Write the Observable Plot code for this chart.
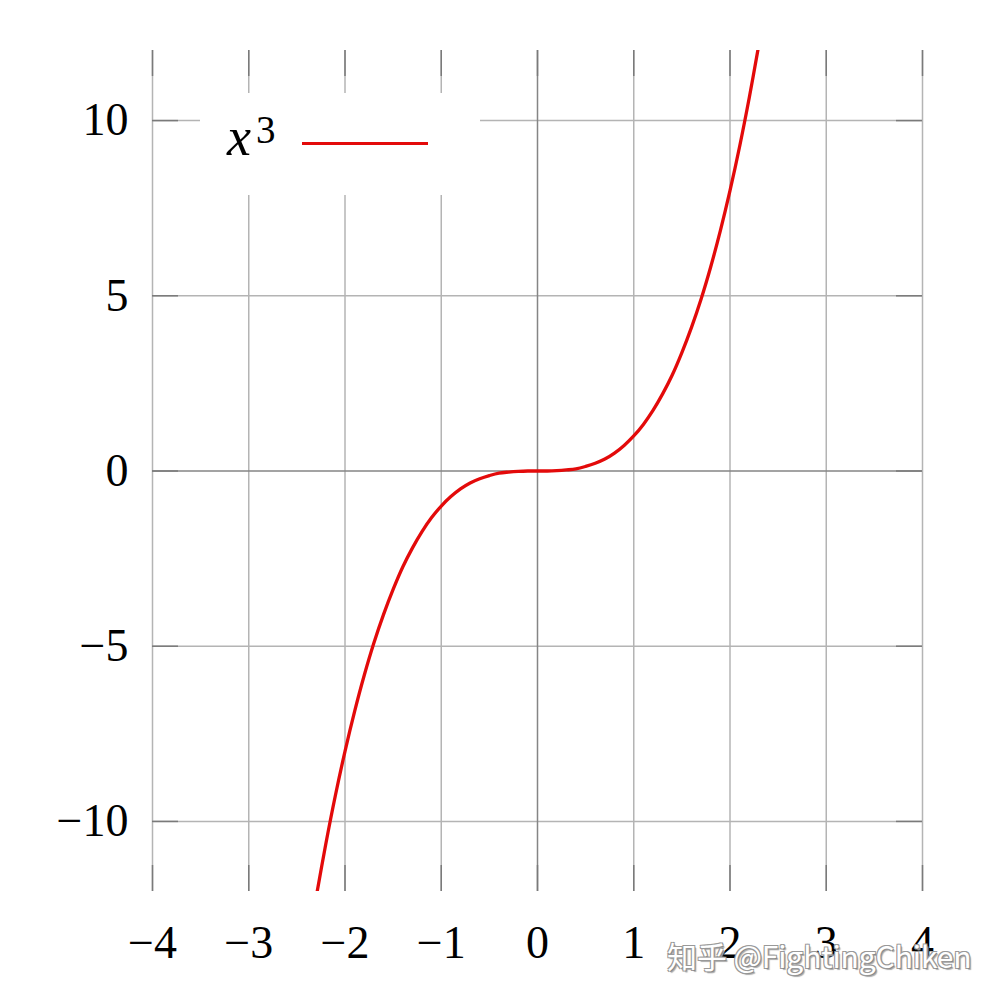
<!DOCTYPE html>
<html>
<head>
<meta charset="utf-8">
<script src="https://cdn.jsdelivr.net/npm/d3@7"></script>
<script src="https://cdn.jsdelivr.net/npm/@observablehq/plot@0.6"></script>
<style>
  html, body { margin: 0; padding: 0; background: #fff; }
  #wrap { position: relative; width: 1000px; height: 1000px; }
  #legend { position: absolute; left: 200px; top: 93px; width: 280px; height: 102px; background: #fff; }
  #legend .x { position: absolute; left: 27px; top: 17px; font-family: "Liberation Serif", serif; font-style: italic; font-size: 54px; line-height: 1; }
  #legend .sup { position: absolute; left: 56px; top: 17px; font-family: "Liberation Serif", serif; font-size: 39px; line-height: 1; }
  #legend .line { position: absolute; left: 102px; top: 49px; width: 126px; height: 3px; background: #e30a0a; }
  #wm { position: absolute; left: 667px; top: 933px; font-family: "Noto Sans CJK SC", "Noto Sans", sans-serif; font-size: 30px; color: #fff; letter-spacing: -0.1px; white-space: nowrap;
        text-shadow: -1px -1px 0 #999, 1px -1px 0 #999, -1px 1px 0 #999, 1px 1px 0 #888, 2px 2px 1px #aaa; }
</style>
</head>
<body>
<div id="wrap"></div>
<script>
const xTicks = [-4, -3, -2, -1, 0, 1, 2, 3, 4];
const yTicks = [-10, -5, 0, 5, 10];
const xDomain = [-4, 4];
const yDomain = [-12, 12];
const seriesName = "x";
const seriesPower = "3";

const curveX = [-2.3, -2.2, -2.1, -2.0, -1.9, -1.8, -1.7, -1.6, -1.5, -1.4, -1.3, -1.2, -1.1, -1.0, -0.9, -0.8, -0.7, -0.6, -0.5, -0.4, -0.3, -0.2, -0.1, 0,
                0.1, 0.2, 0.3, 0.4, 0.5, 0.6, 0.7, 0.8, 0.9, 1.0, 1.1, 1.2, 1.3, 1.4, 1.5, 1.6, 1.7, 1.8, 1.9, 2.0, 2.1, 2.2, 2.3];
const curveY = [-12.17, -10.65, -9.26, -8.0, -6.86, -5.83, -4.91, -4.10, -3.38, -2.74, -2.20, -1.73, -1.33, -1.0, -0.73, -0.51, -0.34, -0.22, -0.13, -0.06, -0.03, -0.01, 0, 0,
                0, 0.01, 0.03, 0.06, 0.13, 0.22, 0.34, 0.51, 0.73, 1.0, 1.33, 1.73, 2.20, 2.74, 3.38, 4.10, 4.91, 5.83, 6.86, 8.0, 9.26, 10.65, 12.17];

const curve = curveX.map((x, i) => ({x, y: curveY[i]}));
const fmt = d => d < 0 ? "\u2212" + Math.abs(d) : String(d);

const gridColor = "#b4b4b4";
const axisColor = "#858585";
const tickColor = "#7a7a7a";

const plot = Plot.plot({
  width: 1000,
  height: 1000,
  marginLeft: 152,
  marginRight: 78,
  marginTop: 50,
  marginBottom: 109,
  style: { fontFamily: "'Liberation Serif', 'Times New Roman', serif", fontSize: "46px", color: "#000", background: "#fff" },
  x: { domain: xDomain, ticks: xTicks, tickFormat: fmt, tickSize: 0, tickPadding: 34, label: null },
  y: { domain: yDomain, ticks: yTicks, tickFormat: fmt, tickSize: 0, tickPadding: 24, label: null },
  marks: [
    // grid
    Plot.ruleX(xTicks.filter(d => d !== 0), { x: d => d, y1: yDomain[0], y2: yDomain[1], stroke: gridColor, strokeWidth: 1.5 }),
    Plot.ruleY(yTicks.filter(d => d !== 0), { y: d => d, x1: xDomain[0], x2: xDomain[1], stroke: gridColor, strokeWidth: 1.5 }),
    // zero axes
    Plot.ruleX([0], { x: d => d, y1: yDomain[0], y2: yDomain[1], stroke: axisColor, strokeWidth: 1.5 }),
    Plot.ruleY([0], { y: d => d, x1: xDomain[0], x2: xDomain[1], stroke: axisColor, strokeWidth: 1.5 }),
    // inner tick marks: bottom, top, left, right
    Plot.ruleX(xTicks, { x: d => d, y1: yDomain[0], y2: yDomain[0], insetTop: -26, stroke: tickColor, strokeWidth: 1.5 }),
    Plot.ruleX(xTicks, { x: d => d, y1: yDomain[1], y2: yDomain[1], insetBottom: -26, stroke: tickColor, strokeWidth: 1.5 }),
    Plot.ruleY(yTicks, { y: d => d, x1: xDomain[0], x2: xDomain[0], insetRight: -26, stroke: tickColor, strokeWidth: 1.5 }),
    Plot.ruleY(yTicks, { y: d => d, x1: xDomain[1], x2: xDomain[1], insetLeft: -26, stroke: tickColor, strokeWidth: 1.5 }),
    // curve
    Plot.line(curve, { x: "x", y: "y", stroke: "#e30a0a", strokeWidth: 3.3, curve: "catmull-rom", clip: true }),
    Plot.axisX({ ticks: xTicks, tickFormat: fmt, tickSize: 0, tickPadding: 34 }),
    Plot.axisY({ ticks: yTicks, tickFormat: fmt, tickSize: 0, tickPadding: 24 })
  ]
});

const wrap = document.getElementById("wrap");
wrap.appendChild(plot);

const legend = document.createElement("div");
legend.id = "legend";
legend.innerHTML = `<span class="x">${seriesName}</span><span class="sup">${seriesPower}</span><div class="line"></div>`;
wrap.appendChild(legend);

const wm = document.createElement("div");
wm.id = "wm";
wm.textContent = "知乎 @FightingChiken";
wrap.appendChild(wm);
</script>
</body>
</html>
